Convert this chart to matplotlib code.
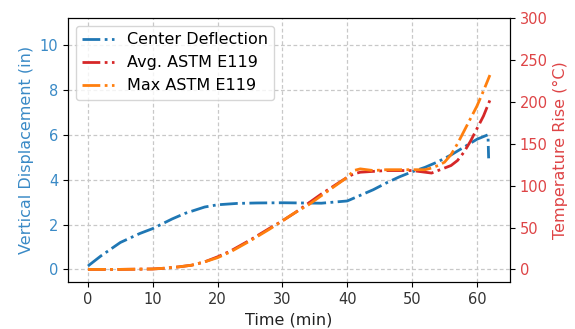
import numpy as np
import matplotlib
matplotlib.use('Agg')
from matplotlib import pyplot as plt

# center deflection (in)
t_defl = [0, 2, 5, 8, 10, 13, 15, 18, 20, 23, 26, 30, 33, 36, 40, 42, 44, 46, 48,
          50, 52, 54, 56, 58, 60, 61.7, 61.8]
defl = [0.15, 0.6, 1.2, 1.6, 1.82, 2.25, 2.5, 2.78, 2.88, 2.94, 2.96, 2.97, 2.96,
        2.95, 3.05, 3.3, 3.55, 3.85, 4.12, 4.35, 4.55, 4.8, 5.1, 5.45, 5.8, 6.0, 4.95]

# temperature rise (C)
t_temp = [0, 5, 10, 12, 14, 16, 18, 20, 22, 25, 28, 30, 32, 34, 36, 38, 40, 41, 42,
          44, 46, 48, 50, 52, 53, 54, 55, 56, 57, 58, 59, 60, 61, 62]
avg_temp = [0, 0, 0.5, 1.5, 3, 5, 9, 15, 22, 35, 49, 58, 68, 79, 90, 100, 110, 114,
            116, 117, 118, 118, 118, 116, 115, 118, 121, 124, 130, 140, 153, 168, 183, 202]
max_temp = [0, 0, 0.5, 1.5, 3, 5, 9, 14, 21, 34, 48, 58, 68, 77, 88, 99, 110, 118,
            120, 118, 119, 119, 119, 119, 121, 124, 128, 137, 150, 165, 180, 195, 213, 232]

blue_txt = '#3a8ac6'
red_txt = '#de4446'

fig, ax1 = plt.subplots(figsize=(5.75, 3.29), dpi=100)
fig.subplots_adjust(left=0.118, right=0.887, bottom=0.143, top=0.945)

l1, = ax1.plot(t_defl, defl, '-.', color='tab:blue', lw=2, label='Center Deflection')
ax1.set_xlabel('Time (min)', fontsize=11.5, color='#222222')
ax1.set_ylabel('Vertical Displacement (in)', color=blue_txt, fontsize=11.5)
ax1.tick_params(axis='y', labelcolor=blue_txt, labelsize=10.5)
ax1.tick_params(axis='x', labelsize=10.5, labelcolor='#333333')
ax1.set_ylim(-0.56, 11.2)
ax1.set_yticks([0, 2, 4, 6, 8, 10])
ax1.set_xticks([0, 10, 20, 30, 40, 50, 60])
ax1.grid(True, linestyle=(0, (3, 2)), color='#c8c8c8', lw=0.9)

ax2 = ax1.twinx()
l2, = ax2.plot(t_temp, avg_temp, '-.', color='tab:red', lw=2, label='Avg. ASTM E119')
l3, = ax2.plot(t_temp, max_temp, '-.', color='tab:orange', lw=2, label='Max ASTM E119')
ax2.set_ylabel('Temperature Rise (°C)', color=red_txt, fontsize=11.5)
ax2.tick_params(axis='y', labelcolor=red_txt, labelsize=10.5)
ax2.set_ylim(-15, 300)

ax2.legend([l1, l2, l3], [l.get_label() for l in [l1, l2, l3]], loc='upper left',
           fontsize=11.5)

plt.savefig('out.png')
